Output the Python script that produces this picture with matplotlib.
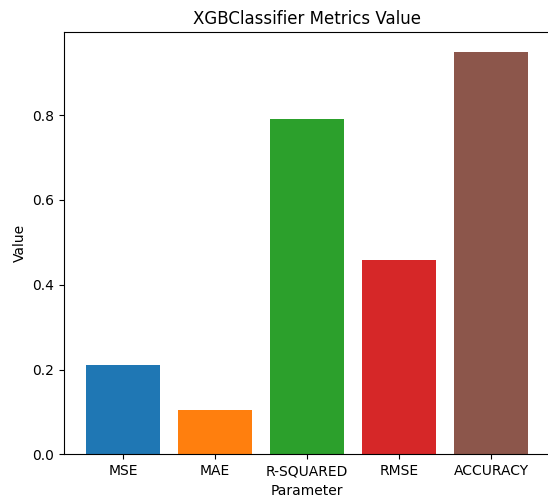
import matplotlib
matplotlib.use("Agg")
import matplotlib.pyplot as plt

categories = ["MSE", "MAE", "R-SQUARED", "RMSE", "ACCURACY"]
values = [0.210, 0.105, 0.790, 0.458, 0.948]
colors = ["#1f77b4", "#ff7f0e", "#2ca02c", "#d62728", "#8c564b"]

fig = plt.figure(figsize=(5.48, 5.04), dpi=100)
ax = fig.add_axes([64/548, 49.7/504, 486/548, 422/504])
ax.bar(categories, values, color=colors)
ax.spines["right"].set_visible(False)
ax.set_title("XGBClassifier Metrics Value")
ax.set_xlabel("Parameter")
ax.set_ylabel("Value")
fig.savefig("out.png", dpi=100)
